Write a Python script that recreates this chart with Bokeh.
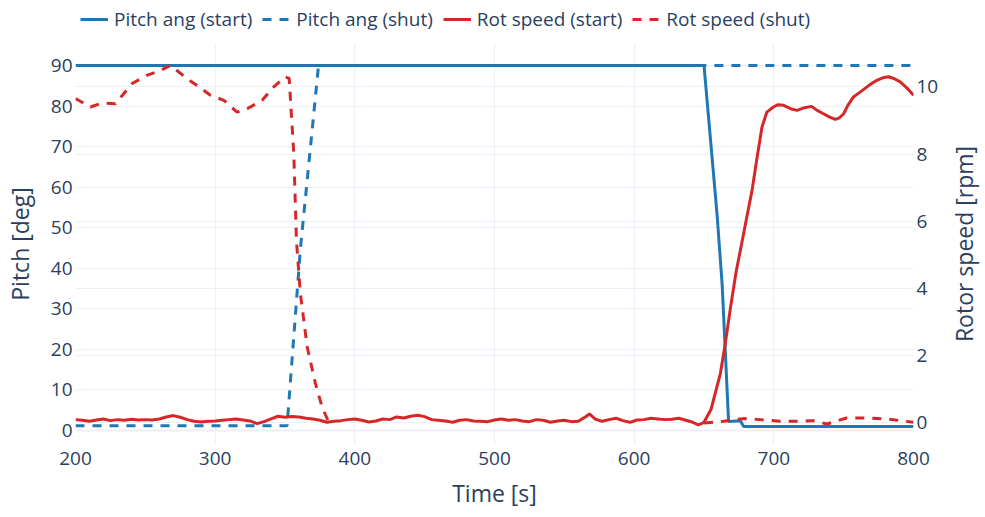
import math
import numpy as np
from bokeh.plotting import figure
from bokeh.layouts import column, row
from bokeh.core.properties import value
from bokeh.models import Range1d, LinearAxis, Grid, Legend, LegendItem, Span, FixedTicker
from bokeh.embed import file_html
from bokeh.resources import INLINE

# pitch angle [deg]
t_pitch_start = [200, 650, 659.3, 663, 667.6, 676, 678.4, 800]
pitch_start = [90, 90, 53.5, 36, 2.2, 2.4, 1.0, 1.0]
t_pitch_shut = [200, 351.5, 361, 374, 800]
pitch_shut = [1.2, 1.2, 44.7, 90, 90]

# rotor speed [rpm]
t_rot_start = [200, 205, 210, 215, 220, 225, 230, 235, 240, 245, 250, 255, 260, 265, 270,
               275, 280, 285, 290, 295, 300, 305, 310, 315, 320, 325, 330, 335, 340, 345,
               350, 355, 360, 365, 370, 375, 380, 385, 390, 395, 400, 405, 410, 415, 420,
               425, 430, 435, 440, 445, 450, 455, 460, 465, 470, 475, 480, 485, 490, 495,
               500, 505, 510, 515, 520, 525, 530, 535, 540, 545, 550, 555, 560, 565, 568,
               572, 577, 582, 587, 592, 597, 602, 607, 612, 617, 622, 627, 632, 637, 642,
               646, 650, 655, 661.7, 665, 669, 673, 677, 681, 684.4, 688, 691.5, 695, 699.7,
               703, 707, 712, 716.6, 722, 727, 731, 735.5, 740, 744, 747, 750, 753, 757,
               762, 766.7, 770, 774, 778, 782, 786, 790.5, 795, 800]
rot_start = [0.10, 0.08, 0.05, 0.09, 0.12, 0.07, 0.10, 0.08, 0.11, 0.09, 0.10, 0.09, 0.12, 0.18, 0.22,
             0.17, 0.10, 0.05, 0.03, 0.05, 0.06, 0.08, 0.10, 0.12, 0.09, 0.06, -0.02, 0.04, 0.12, 0.20,
             0.17, 0.19, 0.18, 0.14, 0.12, 0.08, 0.02, 0.05, 0.07, 0.10, 0.12, 0.08, 0.03, 0.06, 0.12,
             0.10, 0.18, 0.15, 0.20, 0.23, 0.19, 0.10, 0.08, 0.06, 0.02, 0.08, 0.10, 0.06, 0.05, 0.04,
             0.09, 0.12, 0.08, 0.10, 0.06, 0.04, 0.10, 0.08, 0.02, 0.06, 0.08, 0.04, 0.05, 0.18, 0.27,
             0.12, 0.05, 0.10, 0.14, 0.07, 0.02, 0.09, 0.10, 0.14, 0.12, 0.10, 0.11, 0.14, 0.08, 0.02,
             -0.06, 0.02, 0.40, 1.47, 2.3, 3.44, 4.5, 5.34, 6.2, 6.92, 7.9, 8.8, 9.25, 9.4,
             9.47, 9.45, 9.35, 9.3, 9.38, 9.42, 9.3, 9.2, 9.1, 9.03, 9.08, 9.2, 9.45, 9.7,
             9.85, 10.0, 10.1, 10.2, 10.27, 10.3, 10.25, 10.15, 9.98, 9.75]
t_rot_shut = [200, 210.7, 219, 228.6, 240.6, 251, 260.8, 268, 280, 287, 296.6, 306.2, 315.7,
              322.9, 333.6, 342, 350, 353, 356.3, 358.2, 361, 365.9, 371.8, 376.6, 381.3,
              np.nan, 650, 664, 678, 690, 704.6, 719, 728, 738, 752, 766.7, 781, 800]
rot_shut = [9.65, 9.4, 9.52, 9.5, 10.1, 10.34, 10.49, 10.64, 10.24, 10.04, 9.75, 9.6, 9.25,
            9.35, 9.6, 10.0, 10.3, 10.25, 8.0, 5.43, 3.85, 2.26, 1.17, 0.47, 0.02,
            np.nan, 0.0, 0.05, 0.13, 0.10, 0.05, 0.05, 0.07, -0.03, 0.15, 0.15, 0.12, 0.02]

x_ticks = [200, 300, 400, 500, 600, 700, 800]
pitch_ticks = [0, 10, 20, 30, 40, 50, 60, 70, 80, 90]
rpm_ticks = [0, 2, 4, 6, 8, 10]
labels = ["Pitch ang (start)", "Pitch ang (shut)", "Rot speed (start)", "Rot speed (shut)"]

blue = "#1f77b4"
red = "#d62728"
txt = "#2a3f5f"
grid = "#ebf0f8"
font = "Open Sans"
dash = "9 8"

p = figure(width=945, height=474, output_backend="svg", toolbar_location=None, tools="",
           x_range=Range1d(200, 800), y_range=Range1d(-3.45, 95.42),
           min_border_left=75, min_border_right=32, min_border_top=0, min_border_bottom=73)
p.extra_y_ranges = {"rpm": Range1d(-0.64, 11.29)}
p.outline_line_color = None
p.background_fill_color = "white"

laxis = p.yaxis[0]
p.xaxis.ticker = FixedTicker(ticks=x_ticks)
laxis.ticker = FixedTicker(ticks=pitch_ticks)
raxis = LinearAxis(y_range_name="rpm", ticker=FixedTicker(ticks=rpm_ticks))
p.add_layout(raxis, "right")

p.xgrid.grid_line_color = grid
p.ygrid.grid_line_color = grid
p.add_layout(Grid(dimension=1, ticker=raxis.ticker, y_range_name="rpm", grid_line_color=grid))
p.add_layout(Span(location=0, dimension="width", line_color=grid, line_width=2))

p.xaxis.axis_label = "Time [s]"
laxis.axis_label = "Pitch [deg]"
raxis.axis_label = None

for ax in [p.xaxis[0], laxis, raxis]:
    ax.axis_line_color = None
    ax.major_tick_line_color = None
    ax.minor_tick_line_color = None
    ax.major_tick_out = 0
    ax.major_tick_in = 0
    ax.minor_tick_out = 0
    ax.minor_tick_in = 0
    ax.major_label_text_font = font
    ax.major_label_text_font_size = "19px"
    ax.major_label_text_color = txt
    ax.axis_label_text_font = font
    ax.axis_label_text_font_size = "23px"
    ax.axis_label_text_font_style = "normal"
    ax.axis_label_text_color = txt
    ax.major_label_standoff = 3
p.xaxis.major_label_standoff = 7
p.xaxis.axis_label_standoff = 9
laxis.axis_label_standoff = 12

p.line(t_pitch_start, pitch_start, line_color=blue, line_width=3)
p.line(t_pitch_shut, pitch_shut, line_color=blue, line_width=3, line_dash=dash)
p.line(t_rot_start, rot_start, line_color=red, line_width=3, y_range_name="rpm")
p.line(np.array(t_rot_shut), np.array(rot_shut), line_color=red, line_width=3,
       line_dash=dash, y_range_name="rpm")

# right axis title, reading bottom to top like the left one
rl = figure(width=40, height=474, output_backend="svg", toolbar_location=None, tools="",
            x_range=Range1d(0, 1), y_range=Range1d(0, 1),
            min_border_left=0, min_border_right=0, min_border_top=0, min_border_bottom=73)
rl.axis.visible = False
rl.grid.visible = False
rl.outline_line_color = None
rl.text(x=[0.45], y=[0.5], text=["Rotor speed [rpm]"], angle=math.pi / 2,
        text_align="center", text_baseline="middle", text_font=value(font),
        text_font_size="23px", text_color=txt)

# legend strip above the chart (proxy lines sit outside its visible range)
lg = figure(width=985, height=43, output_backend="svg", toolbar_location=None, tools="",
            x_range=Range1d(200, 800), y_range=Range1d(500, 600),
            min_border_left=75, min_border_right=0, min_border_top=0, min_border_bottom=0)
lg.axis.visible = False
lg.grid.visible = False
lg.outline_line_color = None
proxies = [lg.line(t_pitch_start, pitch_start, line_color=blue, line_width=3),
           lg.line(t_pitch_shut, pitch_shut, line_color=blue, line_width=3, line_dash=dash),
           lg.line(t_rot_start, rot_start, line_color=red, line_width=3),
           lg.line(t_rot_shut, rot_shut, line_color=red, line_width=3, line_dash=dash)]
items = [LegendItem(label=lab, renderers=[r]) for lab, r in zip(labels, proxies)]
legend = Legend(items=items, orientation="horizontal", location=(5, 11),
                padding=0, margin=0, spacing=10, glyph_width=28, glyph_height=20,
                label_standoff=6, label_height=20,
                label_text_font=font, label_text_font_size="19px", label_text_color=txt,
                border_line_color=None, background_fill_alpha=0)
lg.add_layout(legend, "center")

layout = column(lg, row(p, rl, spacing=0), spacing=0)
open("out.html", "w").write(file_html(layout, INLINE))
